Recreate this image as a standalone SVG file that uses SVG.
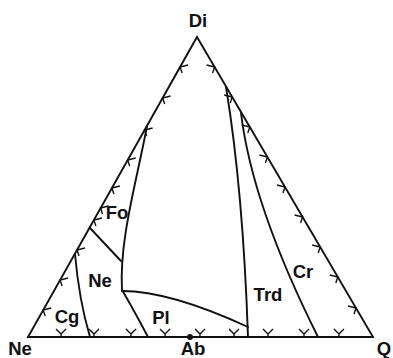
<svg xmlns="http://www.w3.org/2000/svg" width="393" height="358" viewBox="0 0 393 358">
<style>
.ln{fill:none;stroke:#111;stroke-width:1.9;stroke-linejoin:miter;stroke-linecap:round}
.mk{fill:none;stroke:#111;stroke-width:1.4}
.lb{font-family:"Liberation Sans",Arial,sans-serif;font-weight:bold;font-size:18.5px;fill:#111;text-anchor:middle}
</style>
<defs>
<path id="mL" class="mk" d="M8,-2 L0,0 L2,6"/>
<path id="mR" class="mk" d="M-8,-2 L0,0 L-2,6"/>
<path id="mB" class="mk" d="M-5,-8 L0,-3 L5,-8 M0,-3 L0,0"/>
</defs>
<rect width="393" height="358" fill="#fff"/>
<g id="connectors">
<path id="triangle" class="ln" d="M197,37 L373,337 L28,337 Z"/>
<path id="cg-boundary" class="ln" d="M75,254 Q79,300 90,337"/>
<path id="fo-ne-boundary" class="ln" d="M147,126 C137,180 119,240 122,290 Q131,305 148,337"/>
<path id="fo-short" class="ln" d="M90,228 L121,261"/>
<path id="pl-boundary" class="ln" d="M122,291 Q170,291 248,327"/>
<path id="trd-boundary" class="ln" d="M226,87 Q243,190 248,337"/>
<path id="cr-boundary" class="ln" d="M241,113 Q252,205 318,337"/>
</g>
<g id="marks">
<use href="#mL" x="180.1" y="67"/>
<use href="#mL" x="162.6" y="98"/>
<use href="#mL" x="144.6" y="130"/>
<use href="#mL" x="127.7" y="160"/>
<use href="#mL" x="111.9" y="188"/>
<use href="#mL" x="100.5" y="208"/>
<use href="#mL" x="93.9" y="220"/>
<use href="#mL" x="77" y="250"/>
<use href="#mL" x="60.1" y="280"/>
<use href="#mL" x="43.2" y="310"/>
<use href="#mR" x="214.6" y="67"/>
<use href="#mR" x="232.2" y="97"/>
<use href="#mR" x="249.8" y="127"/>
<use href="#mR" x="267.4" y="157"/>
<use href="#mR" x="285" y="187"/>
<use href="#mR" x="302.6" y="217"/>
<use href="#mR" x="320.2" y="247"/>
<use href="#mR" x="337.8" y="277"/>
<use href="#mR" x="356" y="308"/>
<use href="#mB" x="61" y="337"/>
<use href="#mB" x="94" y="337"/>
<use href="#mB" x="131" y="337"/>
<use href="#mB" x="165" y="337"/>
<use href="#mB" x="200" y="337"/>
<use href="#mB" x="234" y="337"/>
<use href="#mB" x="268" y="337"/>
<use href="#mB" x="304" y="337"/>
<use href="#mB" x="339" y="337"/>
</g>
<g id="node-Ab-point"><circle cx="190" cy="337" r="3" fill="#111"/></g>
<g id="node-Di"><text class="lb" x="198" y="27">Di</text></g>
<g id="node-Ne-corner"><text class="lb" x="20" y="355">Ne</text></g>
<g id="node-Ab"><text class="lb" x="193" y="355">Ab</text></g>
<g id="node-Q"><text class="lb" x="384" y="355">Q</text></g>
<g id="field-Fo"><text class="lb" x="117" y="219">Fo</text></g>
<g id="field-Ne"><text class="lb" x="100" y="287">Ne</text></g>
<g id="field-Cg"><text class="lb" x="67" y="323">Cg</text></g>
<g id="field-Pl"><text class="lb" x="161" y="324">Pl</text></g>
<g id="field-Trd"><text class="lb" x="268" y="301">Trd</text></g>
<g id="field-Cr"><text class="lb" x="303" y="278">Cr</text></g>
</svg>
